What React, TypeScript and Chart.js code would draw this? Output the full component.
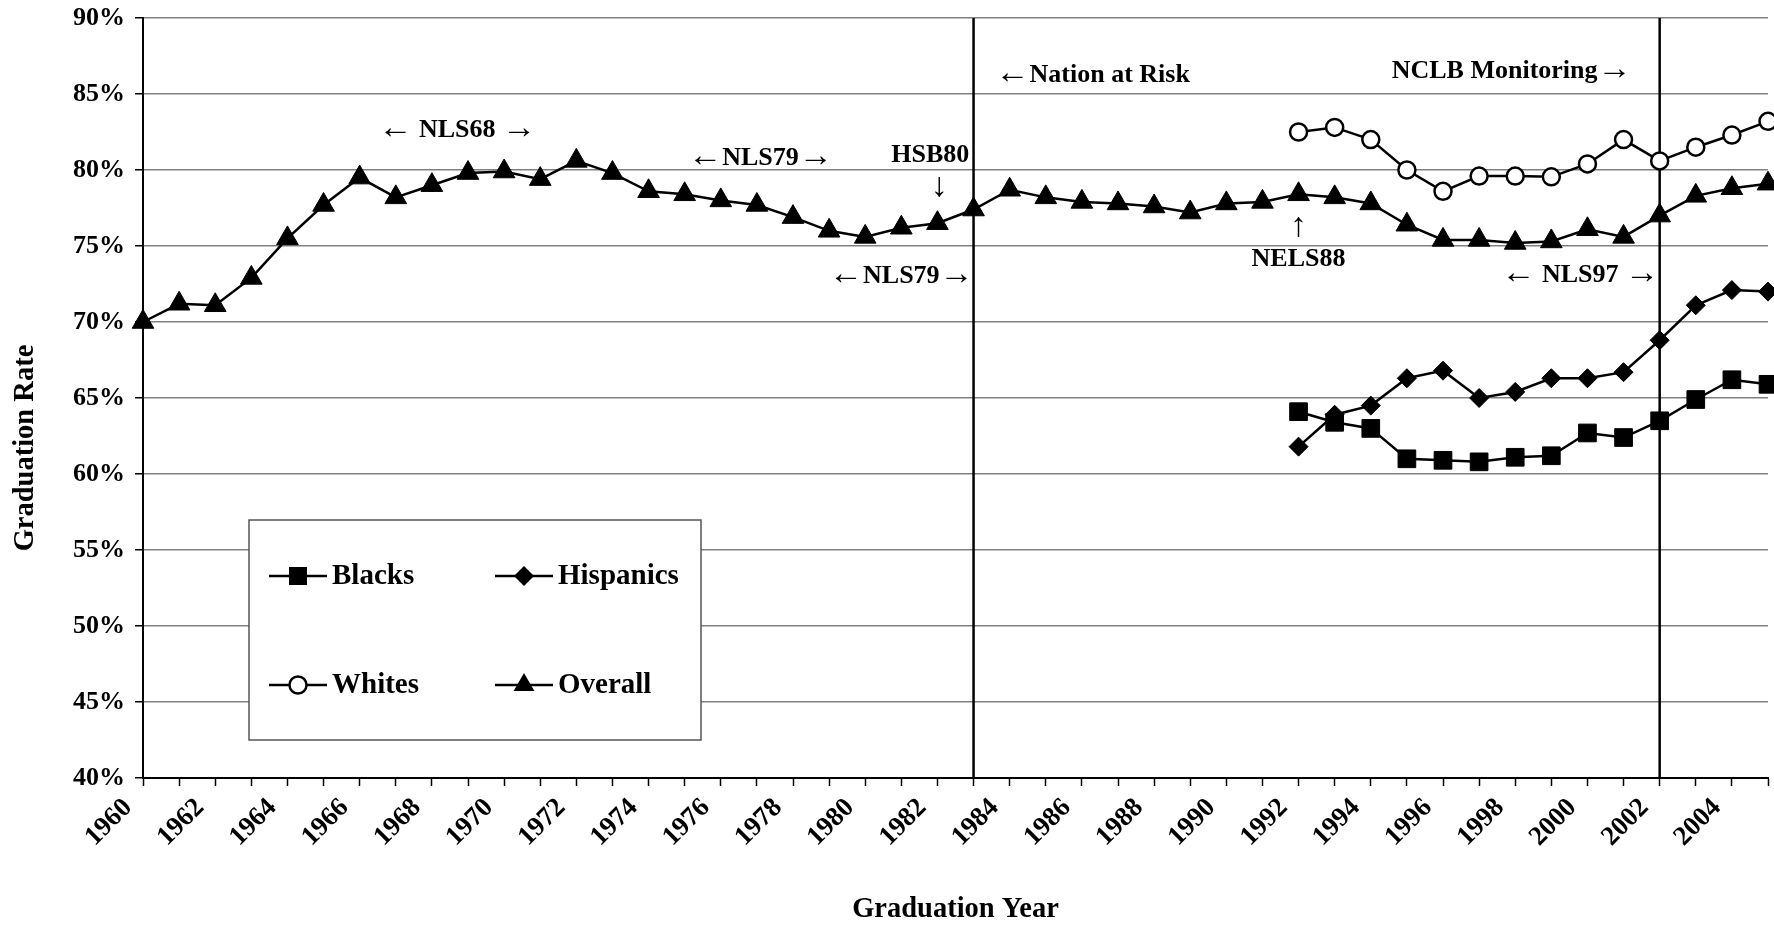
import React, { useEffect, useRef } from 'react';
import { Chart, registerables } from 'chart.js';

Chart.register(...registerables);

const years = [
  '1960', '1961', '1962', '1963', '1964', '1965', '1966', '1967', '1968', '1969',
  '1970', '1971', '1972', '1973', '1974', '1975', '1976', '1977', '1978', '1979',
  '1980', '1981', '1982', '1983', '1984', '1985', '1986', '1987', '1988', '1989',
  '1990', '1991', '1992', '1993', '1994', '1995', '1996', '1997', '1998', '1999',
  '2000', '2001', '2002', '2003', '2004', '2005',
];

const xTickLabels = [
  '1960', '1962', '1964', '1966', '1968', '1970', '1972', '1974', '1976', '1978',
  '1980', '1982', '1984', '1986', '1988', '1990', '1992', '1994', '1996', '1998',
  '2000', '2002', '2004',
];

const yMin = 40;
const yMax = 90;
const yStep = 5;

const overall = [
  70.0, 71.2, 71.1, 72.9, 75.5, 77.7, 79.5, 78.2, 79.0, 79.8,
  79.9, 79.4, 80.6, 79.8, 78.6, 78.4, 78.0, 77.7, 76.9, 76.0,
  75.6, 76.2, 76.5, 77.4, 78.7, 78.2, 77.9, 77.8, 77.6, 77.2,
  77.8, 77.9, 78.4, 78.2, 77.8, 76.4, 75.4, 75.4, 75.2, 75.3,
  76.1, 75.6, 77.0, 78.3, 78.8, 79.1,
];

// subgroup series begin in 1992
const subgroupStart = '1992';
const whites = [82.5, 82.8, 82.0, 80.0, 78.6, 79.6, 79.6, 79.55, 80.4, 82.0, 80.6, 81.5, 82.3, 83.2];
const hispanics = [61.8, 63.9, 64.5, 66.3, 66.8, 65.0, 65.4, 66.3, 66.3, 66.7, 68.8, 71.1, 72.1, 72.0];
const blacks = [64.1, 63.4, 63.0, 61.0, 60.9, 60.8, 61.1, 61.2, 62.7, 62.4, 63.5, 64.9, 66.2, 65.9];

const policyYears = ['1983', '2002'];

const notes = [
  { text: '\u2190 NLS68 \u2192', year: 1968.7, value: 82.6 },
  { text: '\u2190NLS79\u2192', year: 1977.1, value: 80.8 },
  { text: 'HSB80', year: 1981.8, value: 81.0 },
  { text: '\u2193', year: 1982.05, value: 78.8 },
  { text: '\u2190NLS79\u2192', year: 1981.0, value: 73.0 },
  { text: '\u2190Nation at Risk', year: 1986.3, value: 86.25 },
  { text: 'NCLB Monitoring\u2192', year: 1997.9, value: 86.5 },
  { text: '\u2191', year: 1992.0, value: 76.2 },
  { text: 'NELS88', year: 1992.0, value: 74.1 },
  { text: '\u2190 NLS97 \u2192', year: 1999.8, value: 73.1 },
];

const FONT = '"Liberation Serif", "Times New Roman", serif';
const TEXT_FONT = `bold 26px ${FONT}`;
const ARROW_FONT = `34px ${FONT}`;
const ARROWS = '\u2190\u2191\u2192\u2193';

const pad = (vals: number[]) => {
  const start = years.indexOf(subgroupStart);
  return years.map((_, i) => (i >= start ? vals[i - start] : null));
};

function drawNote(ctx: CanvasRenderingContext2D, text: string, cx: number, cy: number) {
  // split into runs of arrow / non-arrow characters
  const runs: { s: string; arrow: boolean }[] = [];
  for (const ch of text) {
    const arrow = ARROWS.includes(ch);
    const last = runs[runs.length - 1];
    if (last && last.arrow === arrow) last.s += ch;
    else runs.push({ s: ch, arrow });
  }
  const widths = runs.map((r) => {
    ctx.font = r.arrow ? ARROW_FONT : TEXT_FONT;
    return ctx.measureText(r.s).width;
  });
  const total = widths.reduce((a, b) => a + b, 0);
  let xPos = cx - total / 2;
  ctx.textAlign = 'left';
  ctx.textBaseline = 'middle';
  runs.forEach((r, i) => {
    ctx.font = r.arrow ? ARROW_FONT : TEXT_FONT;
    ctx.fillText(r.s, xPos, r.arrow ? cy - 1 : cy);
    xPos += widths[i];
  });
}

type Marker = 'rect' | 'diamond' | 'circle' | 'triangle';

function drawMarker(ctx: CanvasRenderingContext2D, kind: Marker, x: number, y: number) {
  ctx.beginPath();
  if (kind === 'rect') {
    ctx.rect(x - 9, y - 9, 18, 18);
    ctx.fillStyle = '#000';
    ctx.fill();
  } else if (kind === 'diamond') {
    ctx.moveTo(x - 10, y);
    ctx.lineTo(x, y - 10);
    ctx.lineTo(x + 10, y);
    ctx.lineTo(x, y + 10);
    ctx.closePath();
    ctx.fillStyle = '#000';
    ctx.fill();
  } else if (kind === 'circle') {
    ctx.arc(x, y, 8.5, 0, Math.PI * 2);
    ctx.fillStyle = '#fff';
    ctx.fill();
    ctx.lineWidth = 2.5;
    ctx.strokeStyle = '#000';
    ctx.stroke();
  } else {
    const r = 12;
    ctx.moveTo(x, y - r);
    ctx.lineTo(x + r * 0.866, y + r / 2);
    ctx.lineTo(x - r * 0.866, y + r / 2);
    ctx.closePath();
    ctx.fillStyle = '#000';
    ctx.fill();
  }
}

const legendItems: { label: string; marker: Marker; col: number; row: number }[] = [
  { label: 'Blacks', marker: 'rect', col: 0, row: 0 },
  { label: 'Hispanics', marker: 'diamond', col: 1, row: 0 },
  { label: 'Whites', marker: 'circle', col: 0, row: 1 },
  { label: 'Overall', marker: 'triangle', col: 1, row: 1 },
];

const overlayPlugin = {
  id: 'overlay',
  beforeDatasetsDraw(chart: any) {
    const { ctx, chartArea, scales } = chart;
    const x = scales.x;
    ctx.save();
    ctx.strokeStyle = '#000';
    ctx.lineWidth = 2.5;
    policyYears.forEach((yr) => {
      const px = x.getPixelForValue(years.indexOf(yr));
      ctx.beginPath();
      ctx.moveTo(px, chartArea.top);
      ctx.lineTo(px, chartArea.bottom);
      ctx.stroke();
    });

    // legend box
    const bx = 249, by = 520, bw = 452, bh = 220;
    ctx.fillStyle = '#fff';
    ctx.fillRect(bx, by, bw, bh);
    ctx.strokeStyle = '#555';
    ctx.lineWidth = 1.5;
    ctx.strokeRect(bx, by, bw, bh);
    const colX = [269, 495];
    const rowY = [576, 685];
    legendItems.forEach((it) => {
      const lx = colX[it.col];
      const ly = rowY[it.row];
      ctx.beginPath();
      ctx.moveTo(lx, ly);
      ctx.lineTo(lx + 58, ly);
      ctx.strokeStyle = '#000';
      ctx.lineWidth = 2.5;
      ctx.stroke();
      drawMarker(ctx, it.marker, lx + 29, ly);
      ctx.fillStyle = '#000';
      ctx.font = `bold 29px ${FONT}`;
      ctx.textAlign = 'left';
      ctx.textBaseline = 'middle';
      ctx.fillText(it.label, lx + 63, ly + 1);
    });
    ctx.restore();
  },
  afterDraw(chart: any) {
    const { ctx, chartArea, scales } = chart;
    const x = scales.x;
    const y = scales.y;
    ctx.save();
    ctx.fillStyle = '#000';
    notes.forEach((n) => {
      const px = x.getPixelForValue(n.year - Number(years[0]));
      const py = y.getPixelForValue(n.value);
      drawNote(ctx, n.text, px, py);
    });

    ctx.textAlign = 'center';
    ctx.textBaseline = 'middle';
    ctx.font = `bold 28.5px ${FONT}`;
    ctx.fillText('Graduation Year', (chartArea.left + chartArea.right) / 2, 910);
    ctx.translate(26, 448);
    ctx.rotate(-Math.PI / 2);
    ctx.fillText('Graduation Rate', 0, 0);
    ctx.restore();
  },
};

export default function App() {
  const ref = useRef<HTMLCanvasElement | null>(null);

  useEffect(() => {
    document.body.style.margin = '0';
    if (!ref.current) return;
    const lineBase = {
      borderColor: '#000',
      borderWidth: 2.5,
      pointBorderColor: '#000',
      pointBorderWidth: 1,
      pointBackgroundColor: '#000',
      spanGaps: false,
      tension: 0,
      clip: false as const,
    };
    const chart = new Chart(ref.current, {
      type: 'line',
      data: {
        labels: years,
        datasets: [
          { ...lineBase, label: 'Overall', data: overall, pointStyle: 'triangle', pointRadius: 12.5 },
          {
            ...lineBase,
            label: 'Whites',
            data: pad(whites),
            pointStyle: 'circle',
            pointRadius: 8.5,
            pointBackgroundColor: '#fff',
            pointBorderWidth: 2.5,
          },
          { ...lineBase, label: 'Hispanics', data: pad(hispanics), pointStyle: 'rectRot', pointRadius: 9.5 },
          { ...lineBase, label: 'Blacks', data: pad(blacks), pointStyle: 'rect', pointRadius: 12.5 },
        ],
      },
      options: {
        responsive: false,
        animation: false,
        devicePixelRatio: 1,
        layout: { autoPadding: false, padding: { left: 0, right: 6, top: 18, bottom: 0 } },
        plugins: {
          legend: { display: false },
          tooltip: { enabled: false },
          title: { display: false },
        },
        scales: {
          x: {
            type: 'category',
            offset: false,
            grid: {
              display: true,
              drawOnChartArea: false,
              drawTicks: true,
              tickLength: 8,
              tickColor: '#000',
              tickWidth: 1.5,
            },
            border: { display: true, color: '#000', width: 2 },
            ticks: {
              autoSkip: false,
              maxRotation: 45,
              minRotation: 45,
              padding: 6,
              labelOffset: -15,
              color: '#000',
              font: { family: FONT, size: 27, weight: 'bold' },
              callback: (_v: any, i: number) => (xTickLabels.includes(years[i]) ? years[i] : ''),
            },
            afterFit: (s: any) => {
              s.height = 147;
              s.paddingLeft = 0;
              s.paddingRight = 0;
            },
          },
          y: {
            type: 'linear',
            min: yMin,
            max: yMax,
            grid: {
              color: '#808080',
              lineWidth: 1.5,
              tickLength: 8,
              tickColor: '#000',
              tickWidth: 1.5,
            },
            border: { display: true, color: '#000', width: 2 },
            ticks: {
              stepSize: yStep,
              padding: 10,
              color: '#000',
              font: { family: FONT, size: 26, weight: 'bold' },
              callback: (v: any) => `${v}%`,
            },
            afterFit: (s: any) => {
              s.width = 143;
              s.paddingTop = 0;
              s.paddingBottom = 0;
            },
          },
        },
      },
      plugins: [overlayPlugin],
    });
    return () => chart.destroy();
  }, []);

  return (
    <div style={{ width: 1774, height: 925 }}>
      <canvas ref={ref} width={1774} height={925} style={{ display: 'block' }} />
    </div>
  );
}
